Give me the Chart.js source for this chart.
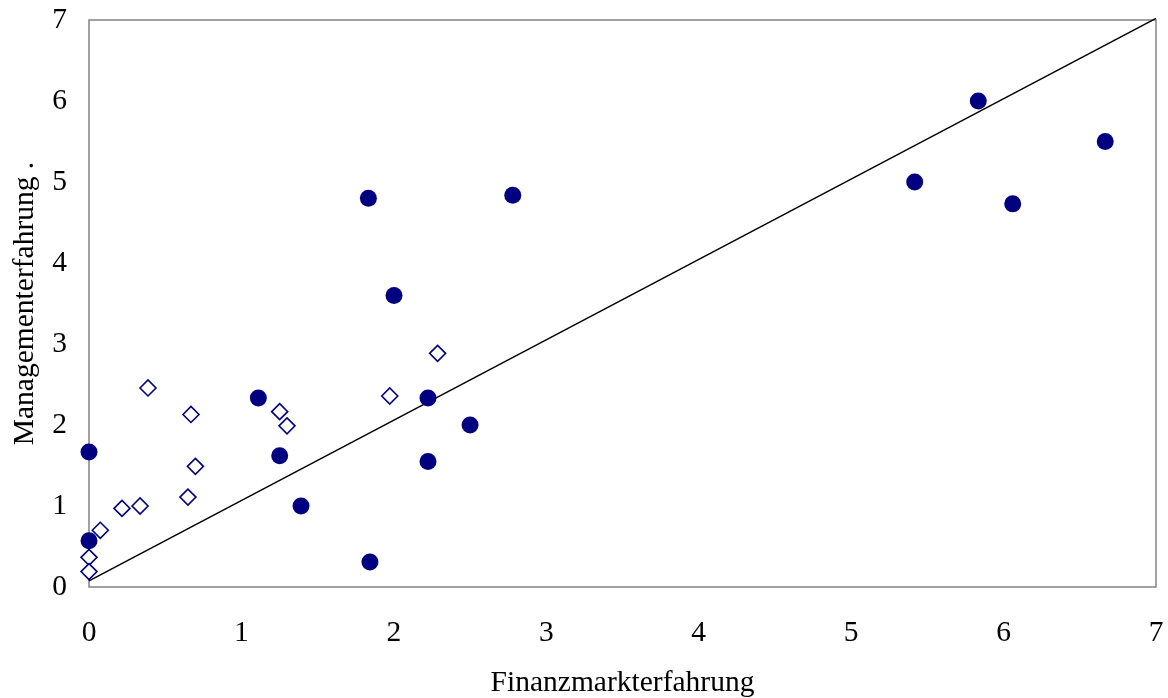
<!DOCTYPE html>
<html>
<head>
<meta charset="utf-8">
<script src="https://cdn.jsdelivr.net/npm/chart.js@4"></script>
<style>
  html, body { margin: 0; padding: 0; background: #ffffff; }
  #wrap { width: 1168px; height: 698px; }
</style>
</head>
<body>
<div id="wrap"><canvas id="c" width="1168" height="698"></canvas></div>
<script>
// ---- data ----
const filledX = [0, 0, 1.111, 1.251, 1.391, 1.833, 2.78, 2.001, 2.224, 2.50, 2.224, 1.843, 5.417, 5.834, 6.06, 6.667];
const filledY = [1.667, 0.57, 2.333, 1.62, 1.0, 4.80, 4.836, 3.60, 2.333, 2.0, 1.55, 0.31, 5.0, 6.0, 4.73, 5.50];

const openX = [0.387, 0.669, 1.251, 1.299, 0.698, 0.649, 0.2165, 0.335, 0.074, 0, 0, 2.287, 1.973];
const openY = [2.457, 2.13, 2.165, 1.99, 1.49, 1.11, 0.97, 1.0, 0.70, 0.366, 0.19, 2.885, 2.358];

const lineX = [0, 7];
const lineY = [0.075, 7.02];

const xTitle = 'Finanzmarkterfahrung';
const yTitle = 'Managementerfahrung .';
const axisMin = 0, axisMax = 7, axisStep = 1;

const toPts = (xs, ys) => xs.map((x, i) => ({ x: x, y: ys[i] }));

const NAVY = '#000080';
const FONT = 'Liberation Serif, Times New Roman, serif';

const framePlugin = {
  id: 'frame',
  beforeDatasetsDraw(chart) {
    const a = chart.chartArea, ctx = chart.ctx;
    ctx.save();
    ctx.strokeStyle = '#8a8a8a';
    ctx.lineWidth = 1.6;
    ctx.strokeRect(a.left, a.top, a.right - a.left, a.bottom - a.top);
    ctx.restore();
  }
};

new Chart(document.getElementById('c'), {
  type: 'scatter',
  data: {
    datasets: [
      {
        type: 'line',
        data: toPts(lineX, lineY),
        borderColor: '#000000',
        borderWidth: 1.5,
        pointRadius: 0,
        fill: false,
        clip: false,
        order: 3
      },
      {
        data: toPts(openX, openY),
        pointStyle: 'rectRot',
        pointRadius: 8,
        pointBackgroundColor: '#ffffff',
        pointBorderColor: NAVY,
        pointBorderWidth: 1.6,
        clip: false,
        order: 2
      },
      {
        data: toPts(filledX, filledY),
        pointStyle: 'circle',
        pointRadius: 8.5,
        pointBackgroundColor: NAVY,
        pointBorderColor: NAVY,
        pointBorderWidth: 0,
        clip: false,
        order: 1
      }
    ]
  },
  options: {
    responsive: false,
    animation: false,
    layout: { autoPadding: false, padding: { left: 0, right: 12, top: 20, bottom: 0 } },
    plugins: { legend: { display: false }, tooltip: { enabled: false } },
    scales: {
      x: {
        type: 'linear',
        min: axisMin, max: axisMax,
        ticks: { stepSize: axisStep, color: '#000', padding: 29, font: { family: FONT, size: 29.5 }, maxRotation: 0 },
        grid: { display: false, drawTicks: false },
        border: { display: false },
        title: { display: true, text: xTitle, color: '#000', font: { family: FONT, size: 29.5, lineHeight: 1.0 }, padding: { top: 0, bottom: 0 } },
        afterFit(s) { s.height = 111; s.paddingLeft = 0; s.paddingRight = 0; }
      },
      y: {
        type: 'linear',
        min: axisMin, max: axisMax,
        ticks: { stepSize: axisStep, color: '#000', padding: 22, font: { family: FONT, size: 29.5 } },
        grid: { display: false, drawTicks: false },
        border: { display: false },
        title: { display: true, text: yTitle, color: '#000', font: { family: FONT, size: 29.5, lineHeight: 1.0 }, padding: { top: 10, bottom: 0 } },
        afterFit(s) { s.width = 89; s.paddingTop = 0; s.paddingBottom = 0; }
      }
    }
  },
  plugins: [framePlugin]
});
</script>
</body>
</html>
